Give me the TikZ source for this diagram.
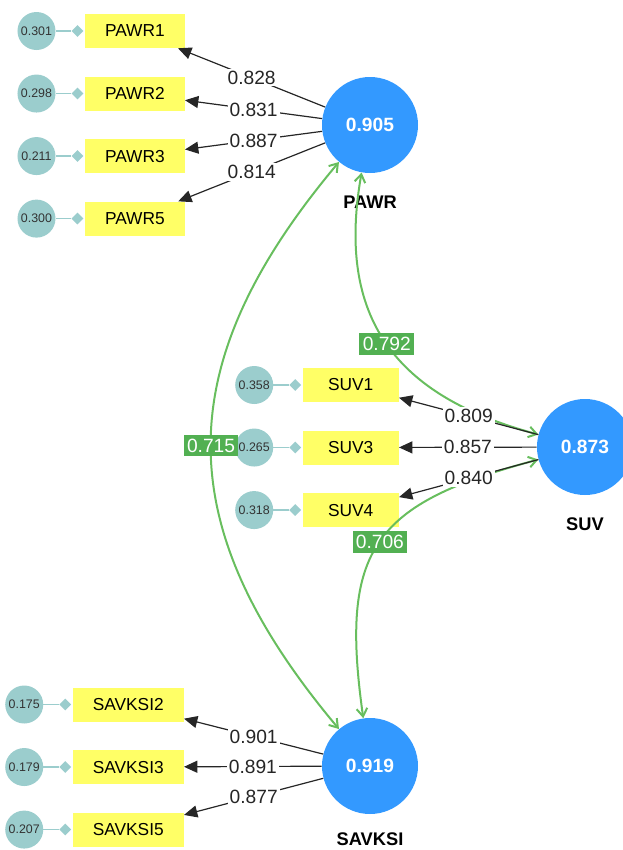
\documentclass[tikz,border=0pt]{standalone}
\usepackage{fontspec}
\setsansfont{Liberation Sans}
\usetikzlibrary{arrows.meta,positioning,shapes.geometric}

\definecolor{latblue}{RGB}{51,153,255}
\definecolor{indyellow}{RGB}{255,255,102}
\definecolor{errteal}{RGB}{155,205,205}
\definecolor{corrgreen}{RGB}{104,190,94}
\definecolor{lblgreen}{RGB}{82,176,82}

\begin{document}
\begin{tikzpicture}[
  x=0.75pt, y=0.75pt,
  font=\sffamily,
  latent/.style={circle, fill=latblue, text=white, minimum size=72pt, inner sep=0, font=\sffamily\bfseries\fontsize{14.4}{16}\selectfont},
  latname/.style={inner sep=0, font=\sffamily\bfseries\fontsize{13.7}{16}\selectfont},
  ind/.style={fill=indyellow, minimum width=72pt, minimum height=25.5pt, inner xsep=15pt, font=\sffamily\fontsize{13}{15}\selectfont},
  err/.style={circle, fill=errteal, minimum size=28.5pt, inner sep=0, text=black!80, font=\sffamily\fontsize{9.3}{11}\selectfont},
  errtip/.style={diamond, fill=errteal, minimum size=9pt, inner sep=0},
  errline/.style={draw=errteal, line width=1pt},
  load/.style={-{Triangle[length=10pt,width=9pt]}, line width=0.9pt, black!85},
  lbl/.style={fill=white, inner sep=1.5pt, text=black!85, font=\sffamily\fontsize{14.4}{16}\selectfont},
  corr/.style={{Straight Barb[length=6pt,width=8pt]}-{Straight Barb[length=6pt,width=8pt]}, draw=corrgreen, line width=1.5pt},
  corrlbl/.style={fill=lblgreen, text=white, inner xsep=2.5pt, inner ysep=3pt, font=\sffamily\fontsize{14.4}{16}\selectfont}
]
\useasboundingbox (0,0) rectangle (623,-850);

% latent variables
\node[latent] (pawr) at (370,-125) {0.905};
\node[latent] (suv) at (585,-447) {0.873};
\node[latent] (savksi) at (370,-766) {0.919};
\node[latname, below=16.5pt of pawr] (pawrname) {PAWR};
\node[latname, below=16.5pt of suv] (suvname) {SUV};
\node[latname, below=14pt of savksi] (savksiname) {SAVKSI};

% indicators of PAWR
\node[ind, anchor=east] (pawr1) at (185,-31) {PAWR1};
\node[ind, below=21pt of pawr1] (pawr2) {PAWR2};
\node[ind, below=21pt of pawr2] (pawr3) {PAWR3};
\node[ind, below=21pt of pawr3] (pawr5) {PAWR5};

% indicators of SUV
\node[ind, anchor=east] (suv1) at (399,-385) {SUV1};
\node[ind, below=21pt of suv1] (suv3) {SUV3};
\node[ind, below=21pt of suv3] (suv4) {SUV4};

% indicators of SAVKSI
\node[ind, anchor=east] (savksi2) at (184,-704.5) {SAVKSI2};
\node[ind, below=21pt of savksi2] (savksi3) {SAVKSI3};
\node[ind, below=21pt of savksi3] (savksi5) {SAVKSI5};

% error terms
\node[err, left=21.75pt of pawr1] (epawr1) {0.301};
\node[err, left=21.75pt of pawr2] (epawr2) {0.298};
\node[err, left=21.75pt of pawr3] (epawr3) {0.211};
\node[err, left=21.75pt of pawr5] (epawr5) {0.300};
\node[err, left=21.75pt of suv1] (esuv1) {0.358};
\node[err, left=21.75pt of suv3] (esuv3) {0.265};
\node[err, left=21.75pt of suv4] (esuv4) {0.318};
\node[err, left=21.75pt of savksi2] (esavksi2) {0.175};
\node[err, left=21.75pt of savksi3] (esavksi3) {0.179};
\node[err, left=21.75pt of savksi5] (esavksi5) {0.207};

\node[errtip, left=0.75pt of pawr1] (dpawr1) {};
\node[errtip, left=0.75pt of pawr2] (dpawr2) {};
\node[errtip, left=0.75pt of pawr3] (dpawr3) {};
\node[errtip, left=0.75pt of pawr5] (dpawr5) {};
\node[errtip, left=0.75pt of suv1] (dsuv1) {};
\node[errtip, left=0.75pt of suv3] (dsuv3) {};
\node[errtip, left=0.75pt of suv4] (dsuv4) {};
\node[errtip, left=0.75pt of savksi2] (dsavksi2) {};
\node[errtip, left=0.75pt of savksi3] (dsavksi3) {};
\node[errtip, left=0.75pt of savksi5] (dsavksi5) {};

\draw[errline] (epawr1) -- (dpawr1);
\draw[errline] (epawr2) -- (dpawr2);
\draw[errline] (epawr3) -- (dpawr3);
\draw[errline] (epawr5) -- (dpawr5);
\draw[errline] (esuv1) -- (dsuv1);
\draw[errline] (esuv3) -- (dsuv3);
\draw[errline] (esuv4) -- (dsuv4);
\draw[errline] (esavksi2) -- (dsavksi2);
\draw[errline] (esavksi3) -- (dsavksi3);
\draw[errline] (esavksi5) -- (dsavksi5);

% correlations
\draw[corr] (pawr) to[out=230, in=130, looseness=1.2] node[corrlbl] {0.715} (savksi);
\draw[corr] (pawr) to[out=260, in=165, looseness=1.2] node[corrlbl] {0.792} (suv);
\draw[corr] (suv) to[out=195, in=98, looseness=1.4] node[corrlbl] {0.706} (savksi);

% loadings
\draw[load] (pawr) -- node[lbl] {0.828} (pawr1);
\draw[load] (pawr) -- node[lbl] {0.831} (pawr2);
\draw[load] (pawr) -- node[lbl] {0.887} (pawr3);
\draw[load] (pawr) -- node[lbl] {0.814} (pawr5);
\draw[load] (suv) -- node[lbl] {0.809} (suv1);
\draw[load] (suv) -- node[lbl] {0.857} (suv3);
\draw[load] (suv) -- node[lbl] {0.840} (suv4);
\draw[load] (savksi) -- node[lbl] {0.901} (savksi2);
\draw[load] (savksi) -- node[lbl] {0.891} (savksi3);
\draw[load] (savksi) -- node[lbl] {0.877} (savksi5);

\end{tikzpicture}
\end{document}
